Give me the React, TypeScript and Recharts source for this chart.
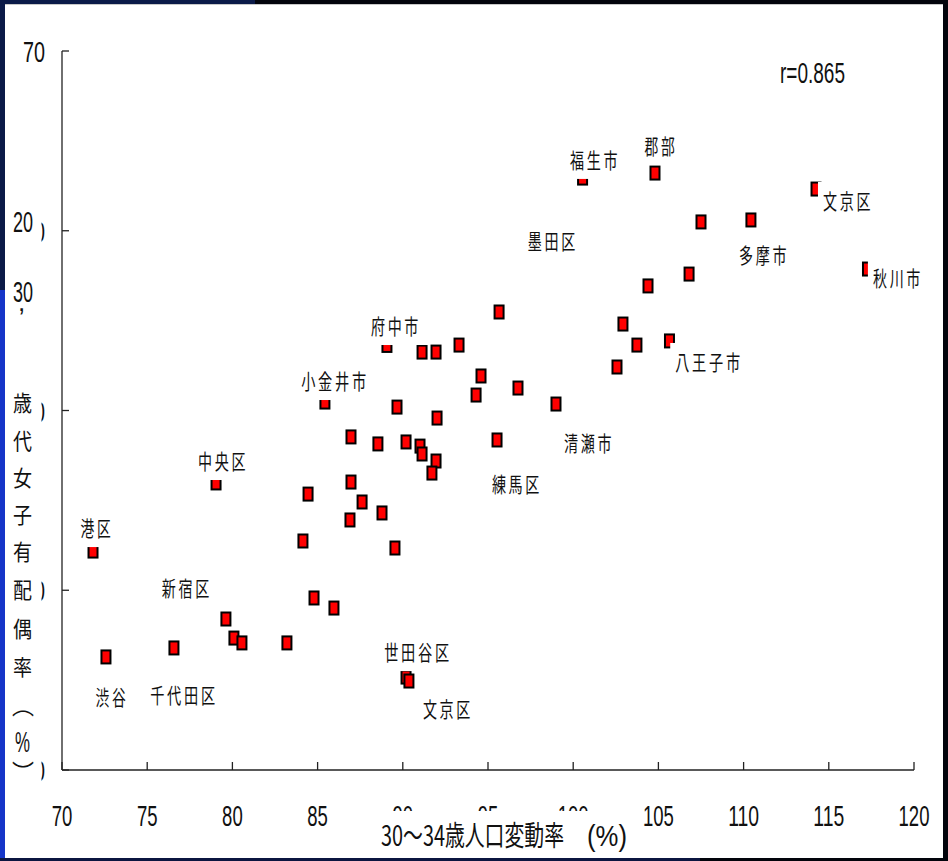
import React from 'react';
import { ScatterChart, Scatter, XAxis, YAxis } from 'recharts';

// ---- data ----
const xTicks = [70, 75, 80, 85, 90, 95, 100, 105, 110, 115, 120];
const yTicks = [30, 40, 50, 60, 70];

// 30~34歳人口変動率 (%)
const changeRate = [
  71.82, 72.58, 79.04, 76.57, 79.62, 80.09, 80.56, 83.2, 84.79, 85.96,
  84.14, 84.44, 86.9, 86.96, 87.61, 88.78, 89.54, 86.96, 88.54, 90.19,
  91.01, 91.13, 91.95, 91.71, 92.01, 89.66, 85.43, 89.07, 91.13, 91.95,
  93.3, 94.59, 94.3, 96.76, 95.65, 98.99, 95.53, 90.19, 90.36, 100.55,
  104.8, 107.5, 110.43, 114.25, 117.27, 106.8, 104.39, 102.92, 103.74, 102.57,
  105.65,
];
// 20,30歳代女子有配偶率 (%)
const marriedRate = [
  42.18, 36.29, 45.97, 36.79, 38.4, 37.34, 37.07, 37.07, 39.57, 39.01,
  42.74, 45.35, 43.91, 46.02, 44.91, 44.3, 42.35, 48.53, 48.14, 48.25,
  48.02, 47.58, 47.19, 46.52, 49.58, 50.19, 50.47, 53.62, 53.25, 53.25,
  53.64, 51.92, 50.86, 51.25, 55.48, 50.36, 48.36, 35.17, 34.95, 62.93,
  63.21, 60.49, 60.6, 62.32, 57.87, 57.59, 56.93, 54.81, 53.64, 52.42,
  53.87,
];

const labelNames = [
  '福生市', '郡部', '文京区', '墨田区', '多摩市', '秋川市', '府中市', '八王子市', '小金井市',
  '清瀬市', '中央区', '練馬区', '港区', '新宿区', '世田谷区', '渋谷', '千代田区', '文京区',
];
const labelX = [
  101.34, 105.21, 116.19, 98.87, 111.26, 119.12, 89.66, 108.03, 86.08,
  100.99, 79.51, 96.76, 72.11, 77.39, 90.95, 72.99, 77.22, 92.71,
];
const labelY = [
  63.94, 64.71, 61.66, 59.43, 58.65, 57.37, 54.7, 52.7, 51.64,
  48.19, 47.19, 45.91, 43.46, 40.13, 36.56, 34.06, 34.17, 33.39,
];

const xTitle = '30～34歳人口変動率';
const xTitleUnit = '(%)';
const yTitleNums = ['20', '30'];
const yTitleChars = ['歳', '代', '女', '子', '有', '配', '偶', '率'];
const corrText = 'r=0.865';

const points = changeRate.map((x, i) => ({ x, y: marriedRate[i] }));
const labels = labelNames.map((name, i) => ({ name, x: labelX[i], y: labelY[i] }));

const NUM_FONT = '"Liberation Sans", Arial, sans-serif';
const CJK_FONT = '"Noto Sans CJK JP", "Noto Sans CJK SC", sans-serif';

const Marker = (p: any) => {
  const { cx, cy } = p;
  if (cx == null || cy == null) return null;
  return (
    <rect x={cx - 4.5} y={cy - 6.5} width={9} height={13} fill="#ff0000" stroke="#000" strokeWidth={2} />
  );
};

const LabelShape = (p: any) => {
  const { cx, cy, payload } = p;
  if (cx == null || cy == null) return null;
  const n = [...payload.name].length;
  const w = n * 17.4;
  return (
    <g>
      <rect x={cx - w / 2 - 5} y={cy - 19} width={w + 10} height={38} fill="#fff" />
      <text
        x={cx - w / 2}
        y={cy + 8}
        fontSize={21}
        fontFamily={CJK_FONT}
        fill="#111"
        textLength={w - 2}
        lengthAdjust="spacingAndGlyphs"
        letterSpacing={4}
      >
        {payload.name}
      </text>
    </g>
  );
};

const XTick = (p: any) => {
  const { x, y, payload } = p;
  const s = String(payload.value);
  const tl = s.length * 10.3;
  return (
    <g>
      <line x1={x} y1={y} x2={x} y2={y - 8} stroke="#222" strokeWidth={1.3} />
      <text
        x={x - tl / 2}
        y={826}
        fontSize={29}
        fontFamily={NUM_FONT}
        fill="#111"
        textLength={tl}
        lengthAdjust="spacingAndGlyphs"
      >
        {s}
      </text>
    </g>
  );
};

const YTick = (p: any) => {
  const { x, y, payload } = p;
  const s = String(payload.value);
  const tl = s.length * 11;
  return (
    <g>
      <line x1={x} y1={y} x2={x + 7} y2={y} stroke="#222" strokeWidth={1.3} />
      <text
        x={45 - tl}
        y={y + 11}
        fontSize={29}
        fontFamily={NUM_FONT}
        fill="#111"
        textLength={tl}
        lengthAdjust="spacingAndGlyphs"
      >
        {s}
      </text>
    </g>
  );
};

const yCharCenters = [403, 441, 478, 515, 552, 590, 629, 667];

export default function App() {
  return (
    <div style={{ position: 'absolute', left: 0, top: 0, width: 948, height: 861, background: '#02040c', overflow: 'hidden' }}>
      {/* frame pieces */}
      <div style={{ position: 'absolute', left: 0, top: 0, width: 255, height: 4, background: '#0b1a48' }} />
      <div style={{ position: 'absolute', left: 0, top: 0, width: 5, height: 290, background: '#0b1a48' }} />
      <div style={{ position: 'absolute', left: 0, top: 290, width: 5, height: 571, background: '#1535c8' }} />
      <div style={{ position: 'absolute', left: 0, top: 858, width: 700, height: 3, background: '#0b1540' }} />
      <div style={{ position: 'absolute', left: 5, top: 4, width: 938, height: 854, background: '#ffffff', borderTop: '1px solid #c8c8c8', boxSizing: 'border-box' }} />
      <div style={{ position: 'absolute', left: 0, top: 0 }}>
        <ScatterChart width={948} height={861} margin={{ top: 51, right: 34, bottom: 61, left: 2 }} style={{ overflow: 'visible' }}>
          <XAxis
            type="number"
            dataKey="x"
            domain={[70, 120]}
            ticks={xTicks}
            interval={0}
            height={30}
            tickSize={0}
            tickMargin={0}
            tickLine={false}
            axisLine={{ stroke: '#222', strokeWidth: 1.3 }}
            tick={<XTick />}
          />
          <YAxis
            type="number"
            dataKey="y"
            domain={[30, 70]}
            ticks={yTicks}
            interval={0}
            width={60}
            tickSize={0}
            tickMargin={0}
            tickLine={false}
            axisLine={{ stroke: '#222', strokeWidth: 1.3 }}
            tick={<YTick />}
          />
          <Scatter data={points} shape={Marker} isAnimationActive={false} />
          <Scatter data={labels} shape={LabelShape} isAnimationActive={false} />
        </ScatterChart>
      </div>
      <svg width={948} height={861} style={{ position: 'absolute', left: 0, top: 0, pointerEvents: 'none' }}>
        {/* y-axis title box */}
        <rect x={5} y={196} width={36.5} height={604} fill="#fff" />
        <text x={13} y={232} fontSize={29} fontFamily={NUM_FONT} fill="#111" textLength={20} lengthAdjust="spacingAndGlyphs">{yTitleNums[0]}</text>
        <text x={13} y={302} fontSize={29} fontFamily={NUM_FONT} fill="#111" textLength={20} lengthAdjust="spacingAndGlyphs">{yTitleNums[1]}</text>
        <text x={18} y={311} fontSize={26} fontFamily={NUM_FONT} fill="#111">,</text>
        {yTitleChars.map((c, i) => (
          <text key={i} x={13} y={yCharCenters[i] + 8} fontSize={22} fontFamily={CJK_FONT} fill="#111" textLength={19} lengthAdjust="spacingAndGlyphs">{c}</text>
        ))}
        <text x={12} y={714} fontSize={22} fontFamily={CJK_FONT} fill="#111">︵</text>
        <text x={15} y={752} fontSize={29} fontFamily={NUM_FONT} fill="#111" textLength={15} lengthAdjust="spacingAndGlyphs">%</text>
        <text x={12} y={780} fontSize={22} fontFamily={CJK_FONT} fill="#111">︶</text>
        {/* x-axis title box */}
        <rect x={370} y={811} width={270} height={47} fill="#fff" />
        <text x={381} y={846} fontSize={28} fontFamily={CJK_FONT} fill="#111" textLength={183} lengthAdjust="spacingAndGlyphs">{xTitle}</text>
        <text x={587} y={846} fontSize={29} fontFamily={NUM_FONT} fill="#111" textLength={40} lengthAdjust="spacingAndGlyphs">{xTitleUnit}</text>
        {/* correlation */}
        <text x={780} y={83} fontSize={29} fontFamily={NUM_FONT} fill="#111" textLength={65} lengthAdjust="spacingAndGlyphs">{corrText}</text>
      </svg>
    </div>
  );
}
